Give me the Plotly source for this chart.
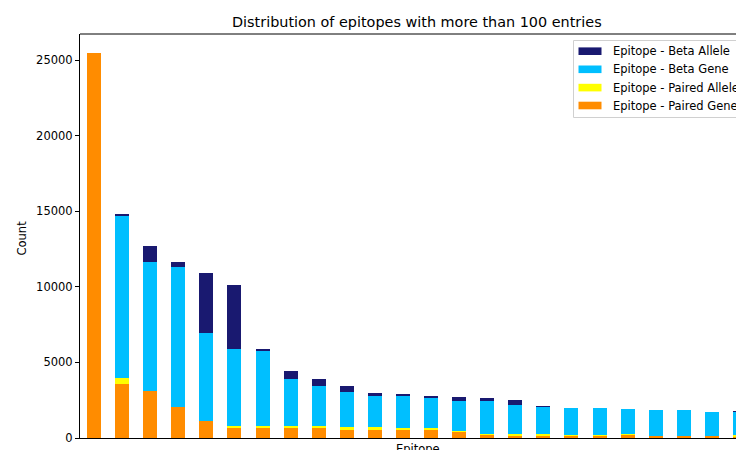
import plotly.graph_objects as go

# ---- data ----
epitope_rank = list(range(24))
series_names = ["Epitope - Beta Allele", "Epitope - Beta Gene",
                "Epitope - Paired Allele", "Epitope - Paired Gene"]
paired_gene = [25450, 3570, 3130, 2030, 1100, 680, 680, 640, 630, 590, 580, 510,
               510, 440, 255, 150, 180, 190, 190, 220, 155, 155, 155, 130]
paired_allele = [0, 380, 0, 0, 0, 133, 133, 160, 164, 130, 130, 173,
                 173, 23, 15, 95, 85, 15, 15, 25, 10, 10, 10, 40]
beta_gene = [0, 10770, 8530, 9250, 5825, 5073, 4941, 3102, 2666, 2290, 2070, 2095,
             1985, 1973, 2177, 1949, 1826, 1779, 1779, 1695, 1665, 1665, 1577, 1560]
beta_allele = [0, 30, 1020, 360, 3975, 4254, 112, 508, 430, 429, 185, 132,
               88, 254, 176, 319, 25, 0, 0, 0, 0, 0, 0, 45]
y_ticks = [0, 5000, 10000, 15000, 20000, 25000]

colors = {"Epitope - Beta Allele": "#191970",
          "Epitope - Beta Gene": "#00BFFF",
          "Epitope - Paired Allele": "#FFFF00",
          "Epitope - Paired Gene": "#FF8C00"}

# the page body has an 8px default margin; size the figure so it ends at 744x450
OFF = 8
W, H = 744 - OFF, 450 - OFF
L, R, T, B = 80 - OFF, 0, 34 - OFF, 12
pw, ph = W - L - R, H - T - B
FONT = "DejaVu Sans"

def px_x(px):          # px in window coordinates
    return (px - OFF - L) / pw

def px_y(py):
    return (H - B - (py - OFF)) / ph

fig = go.Figure()
stack = [("Epitope - Paired Gene", paired_gene),
         ("Epitope - Paired Allele", paired_allele),
         ("Epitope - Beta Gene", beta_gene),
         ("Epitope - Beta Allele", beta_allele)]
for name, vals in stack:
    fig.add_trace(go.Bar(x=epitope_rank, y=vals, name=name,
                         marker=dict(color=colors[name], line=dict(width=0)),
                         showlegend=False))

units_per_px = 24 / 674.0
x_max = -0.5 + pw * units_per_px

shapes = [dict(type="line", xref="paper", yref="paper", x0=0, x1=1.02, y0=1, y1=1,
               line=dict(color="black", width=1))]
annotations = []

# manual legend (matplotlib style)
leg_left, leg_top, leg_bottom = 573.5, 40.5, 117.5
shapes.append(dict(type="rect", xref="paper", yref="paper",
                   x0=px_x(leg_left), x1=px_x(790), y0=px_y(leg_bottom), y1=px_y(leg_top),
                   fillcolor="rgba(255,255,255,0.8)", line=dict(color="#d0d0d0", width=1)))
row_centers = [51.2, 69.3, 87.6, 105.5]
for name, yc in zip(series_names, row_centers):
    shapes.append(dict(type="rect", xref="paper", yref="paper",
                       x0=px_x(578.5), x1=px_x(601.5), y0=px_y(yc + 3.8), y1=px_y(yc - 3.8),
                       fillcolor=colors[name], line=dict(width=0)))
    annotations.append(dict(text=name, xref="paper", yref="paper", x=px_x(611), y=px_y(yc),
                            xanchor="left", yanchor="middle", showarrow=False,
                            font=dict(family=FONT, size=11.5, color="black")))

annotations.append(dict(text="Distribution of epitopes with more than 100 entries",
                        xref="paper", yref="paper", x=px_x(417), y=px_y(21.5),
                        xanchor="center", yanchor="middle", showarrow=False,
                        font=dict(family=FONT, size=14.4, color="black")))
annotations.append(dict(text="Count", xref="paper", yref="paper", x=px_x(21.5), y=px_y(238),
                        xanchor="center", yanchor="middle", textangle=-90, showarrow=False,
                        font=dict(family=FONT, size=11.5, color="black")))
annotations.append(dict(text="Epitope", xref="paper", yref="paper", x=px_x(418), y=px_y(440),
                        xanchor="center", yanchor="top", showarrow=False,
                        font=dict(family=FONT, size=11.5, color="black")))

fig.update_layout(
    template="none",
    width=W, height=H,
    margin=dict(l=L, r=R, t=T, b=B, pad=0),
    barmode="stack", bargap=0.5,
    plot_bgcolor="white", paper_bgcolor="white",
    font=dict(family=FONT, size=11.5, color="black"),
    showlegend=False,
    shapes=shapes, annotations=annotations,
    xaxis=dict(range=[-0.5, x_max], showticklabels=False, ticks="", showgrid=False,
               zeroline=False, showline=True, linecolor="black", linewidth=1,
               automargin=False),
    yaxis=dict(range=[0, 26720], tickvals=y_ticks, ticktext=[str(v) for v in y_ticks],
               ticks="outside", ticklen=4, tickwidth=1, tickcolor="black",
               showgrid=False, zeroline=False, showline=True, linecolor="black",
               linewidth=1, automargin=False,
               tickfont=dict(family=FONT, size=11.5, color="black")),
)

fig.write_html("out.html")
